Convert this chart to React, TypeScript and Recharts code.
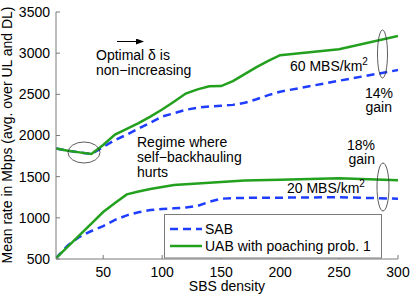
import React from "react";
import { LineChart, Line, XAxis, YAxis } from "recharts";

const densities = [10, 20, 30, 40, 50, 60, 70, 80, 90, 100, 110, 120, 130, 140, 150, 160, 170, 180, 190, 200, 250, 300];
const sab60 = [1843, 1815, 1795, 1775, 1860, 1945, 2010, 2085, 2155, 2230, 2270, 2312, 2338, 2352, 2362, 2372, 2397, 2440, 2490, 2532, 2665, 2795];
const uab60 = [1843, 1815, 1795, 1775, 1885, 2012, 2080, 2150, 2230, 2315, 2410, 2510, 2560, 2597, 2600, 2660, 2745, 2830, 2905, 2975, 3048, 3210];
const sab20 = [510, 665, 770, 840, 900, 975, 1030, 1068, 1095, 1108, 1115, 1125, 1145, 1195, 1232, 1240, 1242, 1244, 1245, 1245, 1250, 1233];
const uab20 = [510, 650, 790, 930, 1070, 1180, 1285, 1320, 1350, 1375, 1398, 1408, 1416, 1425, 1435, 1445, 1452, 1457, 1460, 1462, 1480, 1455];
const xTicks = [50, 100, 150, 200, 250, 300];
const yTicks = [500, 1000, 1500, 2000, 2500, 3000, 3500];
const seriesNames = ["SAB", "UAB with poaching prob. 1"];

const data = densities.map((d, i) => ({
  x: d,
  sab60: sab60[i],
  uab60: uab60[i],
  sab20: sab20[i],
  uab20: uab20[i],
}));

const FONT = "'Liberation Sans', Arial, Helvetica, sans-serif";
const AXIS = "#7a7a7a";
const GREEN = "#22a01e";
const BLUE = "#1f3dff";
const TL = 4;

const LeftTick = (p: any) => (
  <g>
    <line x1={p.x + 6} x2={p.x + 6 + TL} y1={p.y} y2={p.y} stroke={AXIS} strokeWidth={1} />
    <text x={p.x} y={p.y} dy="0.35em" textAnchor="end" fontSize={14} fontFamily={FONT} fill="#000">
      {p.payload.value}
    </text>
  </g>
);
const BottomTick = (p: any) => (
  <g>
    <line x1={p.x} x2={p.x} y1={p.y - 8} y2={p.y - 8 - TL} stroke={AXIS} strokeWidth={1} />
    <text x={p.x} y={p.y + 10} textAnchor="middle" fontSize={14} fontFamily={FONT} fill="#000">
      {p.payload.value}
    </text>
  </g>
);
const TopTick = (p: any) => (
  <line x1={p.x} x2={p.x} y1={p.y} y2={p.y + TL} stroke={AXIS} strokeWidth={1} />
);
const RightTick = (p: any) => (
  <line x1={p.x} x2={p.x - TL} y1={p.y} y2={p.y} stroke={AXIS} strokeWidth={1} />
);

export default function App() {
  return (
    <div style={{ position: "absolute", left: 0, top: 0, width: 415, height: 297, background: "#fff" }}>
      <LineChart width={415} height={297} data={data} margin={{ top: 12, right: 17, bottom: 0, left: 0 }}>
        <XAxis
          dataKey="x"
          type="number"
          domain={[10, 300]}
          ticks={xTicks}
          allowDataOverflow
          height={38}
          tickSize={0}
          tickMargin={8}
          tickLine={false}
          axisLine={{ stroke: AXIS }}
          tick={BottomTick}
          interval={0}
        />
        <XAxis
          xAxisId="top"
          dataKey="x"
          type="number"
          orientation="top"
          domain={[10, 300]}
          ticks={xTicks}
          allowDataOverflow
          height={0}
          tickSize={0}
          tickMargin={0}
          tickLine={false}
          axisLine={{ stroke: AXIS }}
          tick={TopTick}
          interval={0}
        />
        <YAxis
          type="number"
          domain={[500, 3500]}
          ticks={yTicks}
          allowDataOverflow
          width={56}
          tickSize={0}
          tickMargin={6}
          tickLine={false}
          axisLine={{ stroke: AXIS }}
          tick={LeftTick}
          interval={0}
        />
        <YAxis
          yAxisId="right"
          orientation="right"
          type="number"
          domain={[500, 3500]}
          ticks={yTicks}
          allowDataOverflow
          width={0}
          tickSize={0}
          tickMargin={0}
          tickLine={false}
          axisLine={{ stroke: AXIS }}
          tick={RightTick}
          interval={0}
        />
        <Line dataKey="sab60" type="linear" stroke={BLUE} strokeWidth={2.5} strokeDasharray="8 5" dot={false} isAnimationActive={false} />
        <Line dataKey="sab20" type="linear" stroke={BLUE} strokeWidth={2.5} strokeDasharray="8 5" dot={false} isAnimationActive={false} />
        <Line dataKey="uab60" type="linear" stroke={GREEN} strokeWidth={2.5} dot={false} isAnimationActive={false} />
        <Line dataKey="uab20" type="linear" stroke={GREEN} strokeWidth={2.5} dot={false} isAnimationActive={false} />
      </LineChart>
      <svg width={415} height={297} style={{ position: "absolute", left: 0, top: 0, pointerEvents: "none" }} fontFamily={FONT} fontSize={14}>
        <defs>
          <marker id="ah" markerWidth="8" markerHeight="6" refX="7" refY="3" orient="auto" markerUnits="userSpaceOnUse">
            <path d="M0,0 L8,3 L0,6 Z" fill="#000" />
          </marker>
        </defs>
        <text x={12} y={135} transform="rotate(-90 12 135)" textAnchor="middle" fill="#000">
          Mean rate in Mbps (avg. over UL and DL)
        </text>
        <text x={227} y={291} textAnchor="middle" fill="#000">SBS density</text>
        <line x1={117} y1={41.5} x2={143} y2={41.5} stroke="#000" strokeWidth={1} markerEnd="url(#ah)" />
        <text x={96} y={60} fill="#000">Optimal δ is</text>
        <text x={96} y={75} fill="#000">non−increasing</text>
        <text x={290} y={71} fill="#000">
          60 MBS/km<tspan dy={-6} fontSize={10}>2</tspan>
        </text>
        <text x={393} y={98} textAnchor="end" fill="#000">14%</text>
        <text x={392} y={112} textAnchor="end" fill="#000">gain</text>
        <text x={375} y={150} textAnchor="end" fill="#000">18%</text>
        <text x={375} y={164} textAnchor="end" fill="#000">gain</text>
        <text x={137} y={147} fill="#000">Regime where</text>
        <text x={137} y={162} fill="#000">self−backhauling</text>
        <text x={137} y={177} fill="#000">hurts</text>
        <text x={287} y={193} fill="#000">
          20 MBS/km<tspan dy={-6} fontSize={10}>2</tspan>
        </text>
        <ellipse cx={84} cy={152.5} rx={16} ry={10.5} fill="none" stroke="#333" strokeWidth={0.8} />
        <ellipse cx={382.5} cy={54} rx={5} ry={24} fill="none" stroke="#333" strokeWidth={0.8} />
        <ellipse cx={383} cy={187} rx={6} ry={24} fill="none" stroke="#333" strokeWidth={0.8} />
        <rect x={164.5} y={214.5} width={217} height={43.5} fill="#fff" stroke={AXIS} strokeWidth={1} />
        <line x1={170} x2={202} y1={229} y2={229} stroke={BLUE} strokeWidth={2.5} strokeDasharray="8 5" />
        <text x={205} y={234} fill="#000">{seriesNames[0]}</text>
        <line x1={170} x2={202} y1={246} y2={246} stroke={GREEN} strokeWidth={2.5} />
        <text x={205} y={251} fill="#000">{seriesNames[1]}</text>
      </svg>
    </div>
  );
}
